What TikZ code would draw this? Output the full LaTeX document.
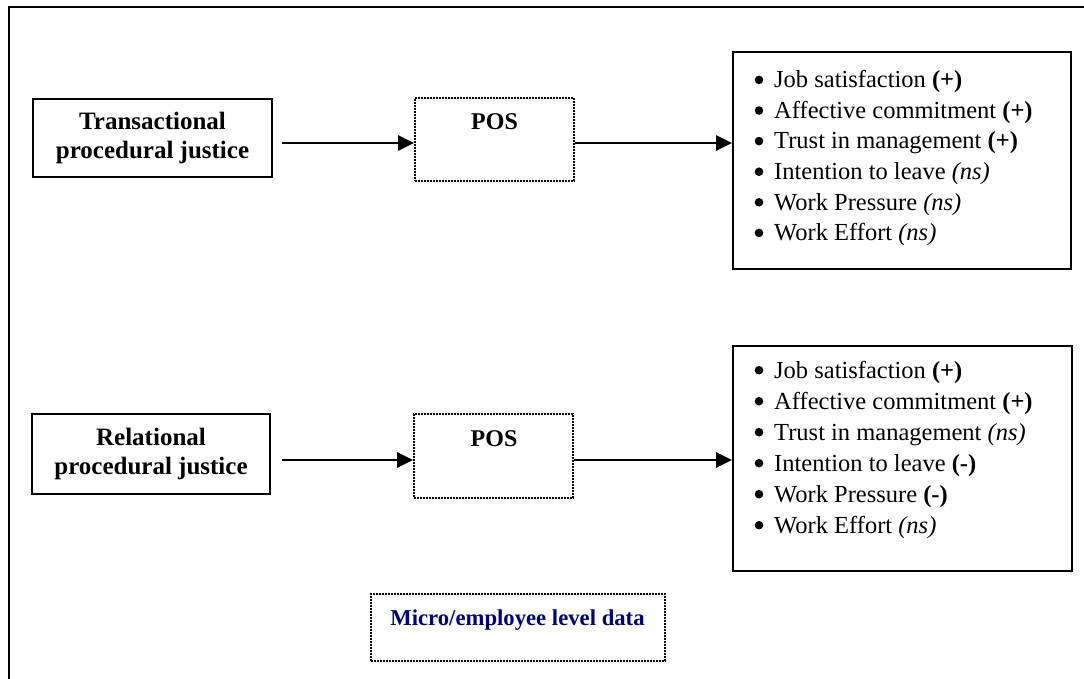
\documentclass[tikz,border=0pt]{standalone}
\usepackage{fontspec}
\setmainfont{Liberation Serif}
\usetikzlibrary{arrows.meta}
\definecolor{navyblue}{RGB}{0,0,128}
\tikzset{
  frame/.style={line width=2pt},
  solidbox/.style={draw, line width=2pt, inner sep=0pt},
  dotbox/.style={draw, line width=1.8pt, dash pattern=on 1.6pt off 1.4pt, inner sep=0pt},
  flow/.style={line width=2.8pt, -{Triangle[length=16pt,width=15pt]}},
  headtext/.style={font=\bfseries\fontsize{25}{29.5}\selectfont, align=center},
  postext/.style={font=\bfseries\fontsize{24}{29.5}\selectfont, anchor=base, inner sep=0pt},
  itemtext/.style={font=\fontsize{24.5}{30}\selectfont, anchor=base west, inner sep=0pt},
}
\begin{document}
\begin{tikzpicture}[x=1pt, y=-1pt]
  \useasboundingbox (0,0) rectangle (1084,679);
  % surrounding frame, running off the page to the right and bottom
  \draw[frame] (9,700) -- (9,7) -- (1100,7);

  % ---- transactional row ----
  \node[solidbox, minimum width=239pt, minimum height=78pt, headtext] (tpj) at (152.5,138) {Transactional\\procedural justice};
  \node[dotbox, minimum width=159pt, minimum height=83pt] (pos1) at (494.5,139.5) {};
  \node[postext] (pos1lbl) at (494.5,130) {POS};
  \node[solidbox, minimum width=338pt, minimum height=217pt] (out1) at (902,160.5) {};
  \node[itemtext] (o1a) at (774,87.7)  {Job satisfaction \textbf{(+)}};
  \node[itemtext] (o1b) at (774,118.3) {Affective commitment \textbf{(+)}};
  \node[itemtext] (o1c) at (774,148.9) {Trust in management \textbf{(+)}};
  \node[itemtext] (o1d) at (774,179.5) {Intention to leave \textit{(ns)}};
  \node[itemtext] (o1e) at (774,210.1) {Work Pressure \textit{(ns)}};
  \node[itemtext] (o1f) at (774,240.7) {Work Effort \textit{(ns)}};
  \draw[flow] ([xshift=9pt,yshift=-5pt]tpj.east) -- ([yshift=-3.5pt]pos1.west);
  \draw[flow] ([yshift=-3.5pt]pos1.east) -- ([yshift=17.5pt]out1.west);

  % ---- relational row ----
  \node[solidbox, minimum width=238pt, minimum height=80pt, headtext] (rpj) at (151,454) {Relational\\procedural justice};
  \node[dotbox, minimum width=159pt, minimum height=84pt] (pos2) at (493.5,456) {};
  \node[postext] (pos2lbl) at (494,446.7) {POS};
  \node[solidbox, minimum width=339pt, minimum height=225pt] (out2) at (902.5,458.5) {};
  \node[itemtext] (o2a) at (774,378) {Job satisfaction \textbf{(+)}};
  \node[itemtext] (o2b) at (774,409) {Affective commitment \textbf{(+)}};
  \node[itemtext] (o2c) at (774,440) {Trust in management \textit{(ns)}};
  \node[itemtext] (o2d) at (774,471) {Intention to leave \textbf{(-)}};
  \node[itemtext] (o2e) at (774,502) {Work Pressure \textbf{(-)}};
  \node[itemtext] (o2f) at (774,533) {Work Effort \textit{(ns)}};
  \draw[flow] ([xshift=11pt,yshift=-6pt]rpj.east) -- ([yshift=-4pt]pos2.west);
  \draw[flow] ([yshift=-4pt]pos2.east) -- ([yshift=-1.5pt]out2.west);

  % list bullets in front of every item
  \foreach \n in {o1a,o1b,o1c,o1d,o1e,o1f,o2a,o2b,o2c,o2d,o2e,o2f}
    \fill ([xshift=-15pt,yshift=7.8pt]\n.base west) circle (4.3pt);

  % ---- data level note ----
  \node[dotbox, minimum width=294pt, minimum height=67pt] (lvl) at (518,627.5) {};
  \node[font=\bfseries\fontsize{22.7}{27}\selectfont, text=navyblue, anchor=base, inner sep=0pt] (lvllbl) at (517.5,625) {Micro/employee level data};
\end{tikzpicture}
\end{document}
